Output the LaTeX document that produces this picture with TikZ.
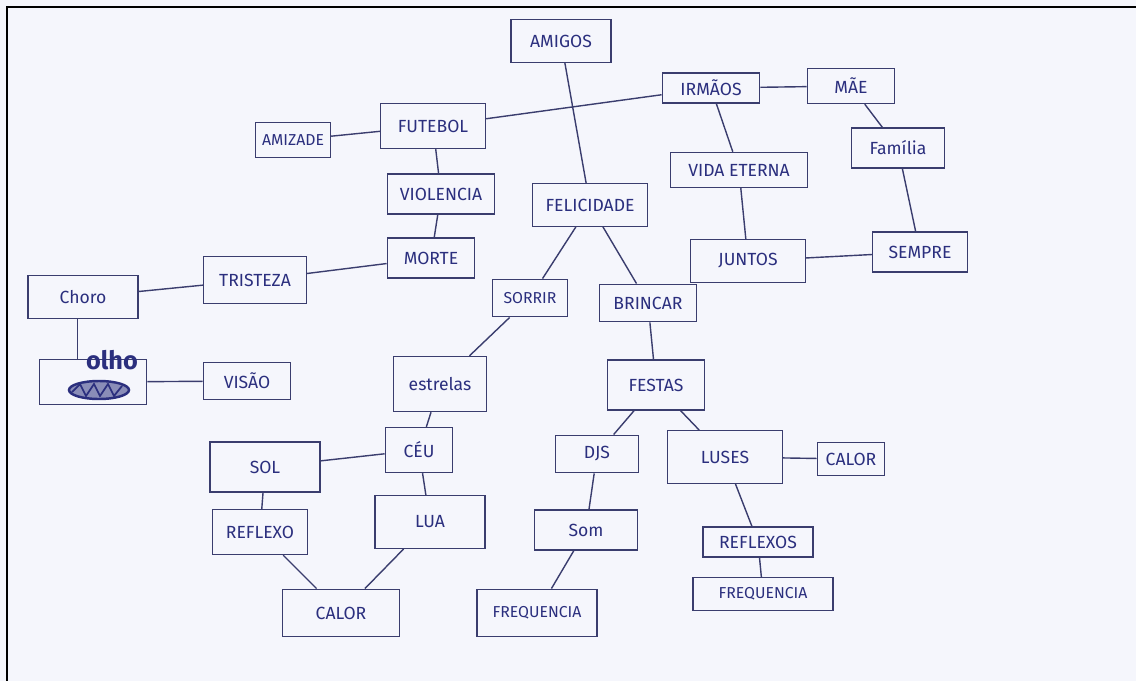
\documentclass[tikz,border=0pt]{standalone}
\usepackage{fontspec}
\setmainfont{Fira Sans}
\usepackage{tikz}
\usetikzlibrary{positioning}
\definecolor{ink}{HTML}{2B2F7E}
\definecolor{pen}{HTML}{3A3D6E}
\definecolor{paper}{HTML}{F5F6FC}
\tikzset{
  concept/.style 2 args = {rectangle, draw=pen, thick, fill=paper,
                           text=ink, font=\normalsize, inner sep=1pt,
                           minimum width=#1, minimum height=#2, align=center},
  link/.style           = {draw=pen, thick},
}

\begin{document}
\begin{tikzpicture}[x=0.02cm,y=-0.02cm]
  \useasboundingbox (0,0) rectangle (1136,680);
  \fill[paper] (-10,-10) rectangle (1150,690);
  \draw[black, line width=1.2pt] (7,690) -- (7,7) -- (1150,7);

  % top row
  \node[concept={2.0cm}{0.85cm}] (amigos)  at (561,41)  {AMIGOS};
  \node[concept={2.1cm}{0.9cm}]  (futebol) at (433,126) {FUTEBOL};
  \node[concept={1.5cm}{0.7cm}]  (amizade) at (293,140) {\small AMIZADE};
  \node[concept={1.95cm}{0.6cm}] (irmaos)  at (711,88)  {IRMÃOS};
  \node[concept={1.75cm}{0.7cm}] (mae)     at (851,86)  {MÃE};
  \node[concept={2.15cm}{0.8cm}] (violencia) at (441,194) {VIOLENCIA};
  \node[concept={2.3cm}{0.85cm}] (felicidade) at (590,205) {FELICIDADE};
  \node[concept={2.75cm}{0.7cm}] (vida)    at (739,170) {VIDA ETERNA};
  \node[concept={1.85cm}{0.8cm}] (familia) at (898,148) {Família};

  % middle
  \node[concept={1.75cm}{0.8cm}] (morte)   at (431,258) {MORTE};
  \node[concept={2.3cm}{0.85cm}] (juntos)  at (748,261) {JUNTOS};
  \node[concept={1.9cm}{0.8cm}]  (sempre)  at (920,252) {SEMPRE};
  \node[concept={2.2cm}{0.85cm}] (choro)   at (83,297)  {Choro};
  \node[concept={2.05cm}{0.95cm}] (tristeza) at (255,280) {TRISTEZA};
  \node[concept={1.5cm}{0.75cm}] (sorrir)  at (530,298) {\small SORRIR};
  \node[concept={1.95cm}{0.75cm}] (brincar) at (648,303) {BRINCAR};
  \node[concept={2.15cm}{0.9cm}] (olho)    at (93,382)  {};
  \node[concept={1.75cm}{0.75cm}] (visao)  at (247,381) {VISÃO};
  \node[concept={1.85cm}{1.1cm}] (estrelas) at (440,384) {estrelas};
  \node[concept={1.95cm}{1.0cm}] (festas)  at (656,385) {FESTAS};

  % scribbled word in olho
  \node[text=ink, font=\Large\bfseries, inner sep=0pt] at (112,360) {olho};
  \filldraw[ink, fill=ink!55, line width=1.4pt] (99,390) ellipse (30 and 9);
  \draw[ink, line width=1pt] (72,392) -- (80,384) -- (86,396) -- (94,384) -- (100,396)
    -- (108,384) -- (114,396) -- (122,386);

  % lower
  \node[concept={1.35cm}{0.9cm}] (ceu)     at (419,450) {CÉU};
  \node[concept={2.2cm}{1.0cm}]  (sol)     at (265,467) {SOL};
  \node[concept={1.65cm}{0.75cm}] (djs)    at (597,454) {DJS};
  \node[concept={2.3cm}{1.05cm}] (luses)   at (725,457) {LUSES};
  \node[concept={1.35cm}{0.65cm}] (calorb) at (851,459) {CALOR};
  \node[concept={1.9cm}{0.9cm}]  (reflexo) at (260,532) {REFLEXO};
  \node[concept={2.2cm}{1.05cm}] (lua)     at (430,522) {LUA};
  \node[concept={2.05cm}{0.8cm}] (som)     at (586,530) {Som};
  \node[concept={2.2cm}{0.6cm}]  (reflexos) at (758,542) {REFLEXOS};
  \node[concept={2.35cm}{0.95cm}] (calora) at (341,613) {CALOR};
  \node[concept={2.4cm}{0.95cm}] (freqa)   at (537,613) {\small FREQUENCIA};
  \node[concept={2.8cm}{0.65cm}] (freqb)   at (763,594) {\small FREQUENCIA};

  % links
  \draw[link] (amigos) -- (felicidade);
  \draw[link] (futebol) -- (irmaos);
  \draw[link] (futebol) -- (amizade);
  \draw[link] (futebol) -- (violencia);
  \draw[link] (violencia) -- (morte);
  \draw[link] (morte) -- (tristeza);
  \draw[link] (tristeza) -- (choro);
  \draw[link] (choro.south west) ++(50,0) coordinate (chs) -- (chs |- olho.north);
  \draw[link] (olho) -- (visao);
  \draw[link] (irmaos) -- (mae);
  \draw[link] (irmaos) -- (vida);
  \draw[link] (vida) -- (juntos);
  \draw[link] (mae) -- (familia);
  \draw[link] (familia) -- (sempre);
  \draw[link] (sempre) -- (juntos);
  \draw[link] (felicidade) -- (sorrir);
  \draw[link] (felicidade) -- (brincar);
  \draw[link] (sorrir) -- (estrelas);
  \draw[link] (estrelas) -- (ceu);
  \draw[link] (ceu) -- (sol);
  \draw[link] (ceu) -- (lua);
  \draw[link] (sol) -- (reflexo);
  \draw[link] (reflexo) -- (calora);
  \draw[link] (lua) -- (calora);
  \draw[link] (brincar) -- (festas);
  \draw[link] (festas) -- (djs);
  \draw[link] (festas) -- (luses);
  \draw[link] (luses) -- (calorb);
  \draw[link] (luses) -- (reflexos);
  \draw[link] (djs) -- (som);
  \draw[link] (som) -- (freqa);
  \draw[link] (reflexos) -- (freqb);
\end{tikzpicture}
\end{document}
